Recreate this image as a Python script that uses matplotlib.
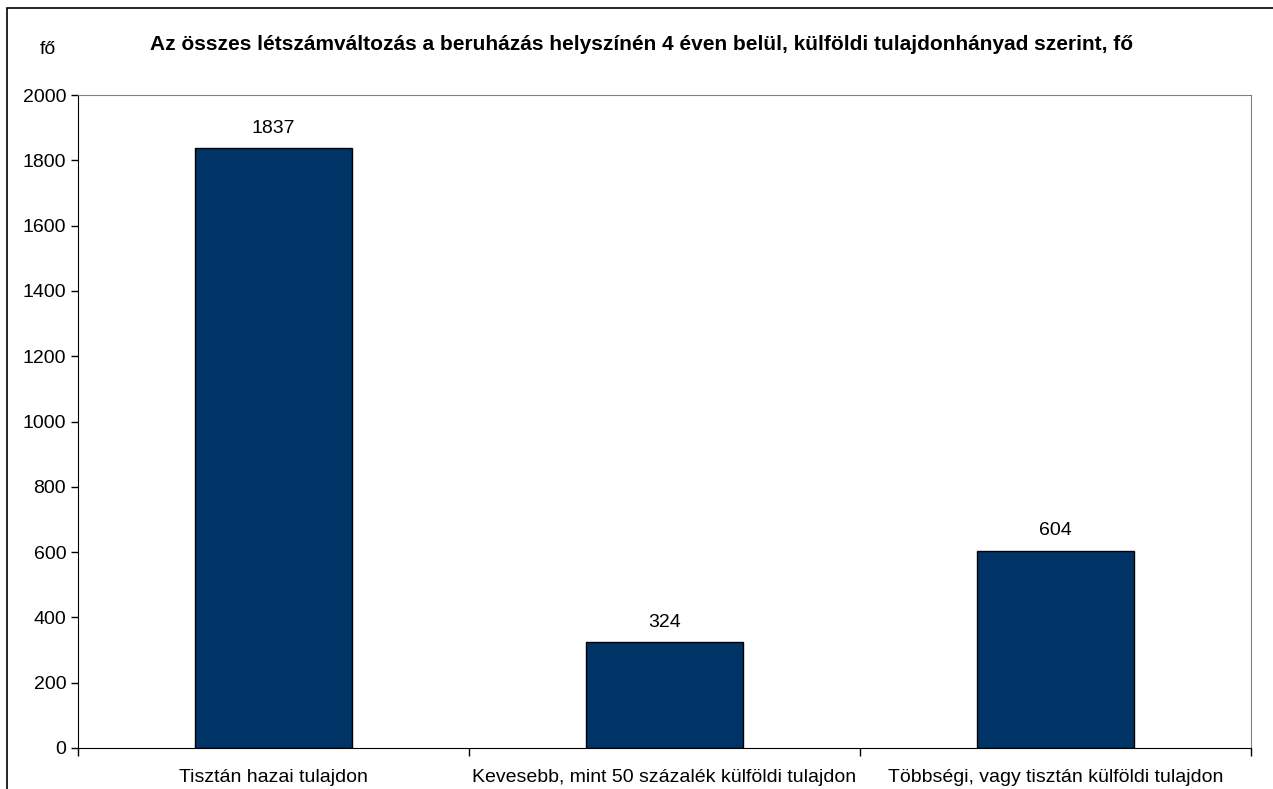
#! /usr/bin/env python3

import matplotlib.pyplot as plt
from matplotlib.patches import Rectangle

categories = ["Tisztán hazai tulajdon",
              "Kevesebb, mint 50 százalék külföldi tulajdon",
              "Többségi, vagy tisztán külföldi tulajdon"]
values = [1837, 324, 604]
y_ticks = [0, 200, 400, 600, 800, 1000, 1200, 1400, 1600, 1800, 2000]

title = "Az összes létszámváltozás a beruházás helyszínén 4 éven belül, külföldi tulajdonhányad szerint, fő"

plt.rcParams["font.family"] = ["Liberation Sans", "DejaVu Sans"]


def main():
    fig = plt.figure(figsize=(12.73, 7.89), dpi=100)
    ax = fig.add_axes([78 / 1273, 1 - 748 / 789, (1251 - 78) / 1273, (748 - 95) / 789])

    # outer frame (only top and left visible in the original)
    fig.patches.append(Rectangle((7 / 1273, -0.1), 1.2, 1 - 8 / 789 + 0.1,
                                 transform=fig.transFigure, fill=False,
                                 edgecolor="black", linewidth=1.2))

    xs = list(range(len(categories)))
    ax.bar(xs, values, width=0.4, color="#003366", edgecolor="black", linewidth=1)
    for x, v in zip(xs, values):
        ax.text(x, v + 35, str(v), ha="center", va="bottom", fontsize=14)

    ax.set_xlim(-0.5, len(categories) - 0.5)
    ax.set_ylim(0, 2000)
    ax.set_yticks(y_ticks)
    ax.tick_params(axis="y", labelsize=14, length=5, width=1, direction="out")

    ax.set_xticks([i - 0.5 for i in range(len(categories) + 1)])
    ax.set_xticklabels([])
    ax.set_xticks(xs, minor=True)
    ax.set_xticklabels(categories, minor=True, fontsize=14)
    ax.tick_params(axis="x", which="major", length=6, width=1, direction="out")
    ax.tick_params(axis="x", which="minor", length=0, pad=15)

    for s in ["top", "right"]:
        ax.spines[s].set_color("#808080")
    for s in ["left", "bottom"]:
        ax.spines[s].set_color("black")

    fig.text(642 / 1273, 1 - 44 / 789, title, ha="center", va="center",
             fontsize=15, fontweight="bold")
    fig.text(48 / 1273, 1 - 50 / 789, "fő", ha="center", va="center", fontsize=14)

    fig.savefig("out.png", dpi=100)


if __name__ == "__main__":
    main()
